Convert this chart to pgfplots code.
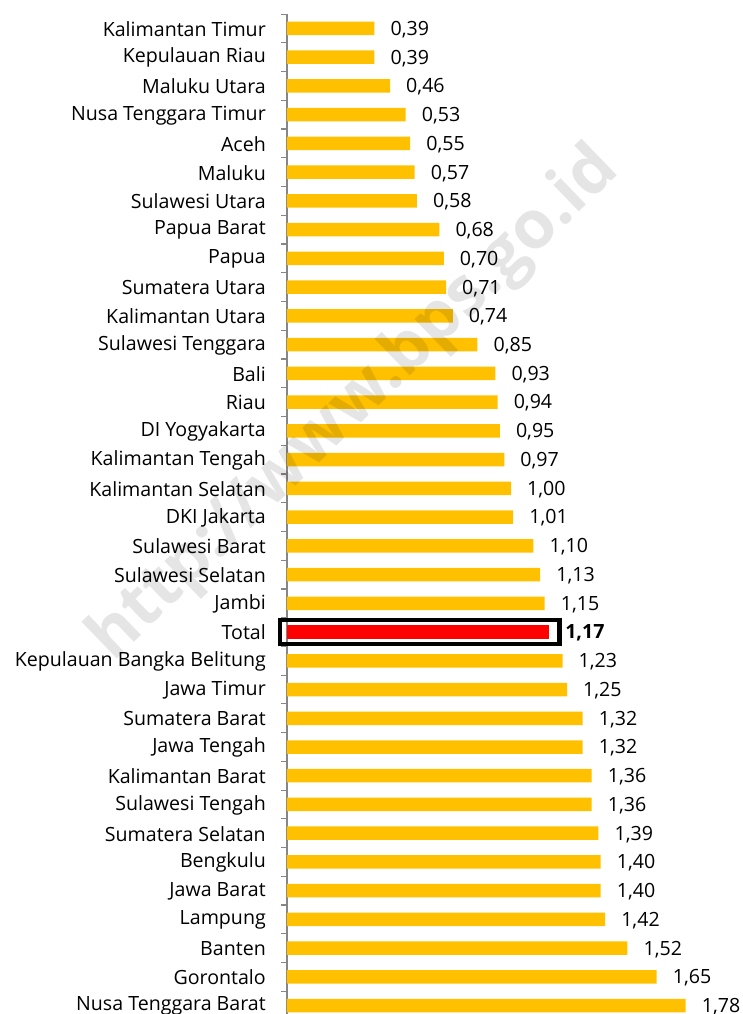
\documentclass[border=0pt]{standalone}
\usepackage{pgfplots}
\pgfplotsset{compat=1.18}
\usepackage{fontspec}
\setmainfont{Open Sans}
\definecolor{baryellow}{HTML}{FFC000}
\definecolor{axgray}{HTML}{868686}
\pgfplotstableread{
idx val
0 0.39
1 0.39
2 0.46
3 0.53
4 0.55
5 0.57
6 0.58
7 0.68
8 0.70
9 0.71
10 0.74
11 0.85
12 0.93
13 0.94
14 0.95
15 0.97
16 1.00
17 1.01
18 1.10
19 1.13
20 1.15
22 1.23
23 1.25
24 1.32
25 1.32
26 1.36
27 1.36
28 1.39
29 1.40
30 1.40
31 1.42
32 1.52
33 1.65
34 1.78
}\provdata
\pgfplotstableread{
idx val
21 1.17
}\totaldata
\begin{document}
\begin{tikzpicture}
\begin{axis}[
  x=224pt, y=28.74pt, y dir=reverse,
  xmin=0, xmax=2.03, ymin=-0.5, ymax=34.5,
  clip=false,
  axis x line=none,
  axis y line*=left,
  y axis line style={-, draw=axgray, line width=1.5pt},
  ytick={0,...,34},
  yticklabels={Kalimantan Timur,Kepulauan Riau,Maluku Utara,Nusa Tenggara Timur,Aceh,Maluku,Sulawesi Utara,Papua Barat,Papua,Sumatera Utara,Kalimantan Utara,Sulawesi Tenggara,Bali,Riau,DI Yogyakarta,Kalimantan Tengah,Kalimantan Selatan,DKI Jakarta,Sulawesi Barat,Sulawesi Selatan,Jambi,Total,Kepulauan Bangka Belitung,Jawa Timur,Sumatera Barat,Jawa Tengah,Kalimantan Barat,Sulawesi Tengah,Sumatera Selatan,Bengkulu,Jawa Barat,Lampung,Banten,Gorontalo,Nusa Tenggara Barat},
  minor ytick={-0.5,0.5,...,34.5},
  major tick length=0pt,
  minor tick length=6pt,
  tick align=outside,
  ytick pos=left,
  minor tick style={axgray, line width=1.2pt},
  yticklabel style={font=\fontsize{19.6}{21}\selectfont, anchor=east, inner sep=0pt, xshift=-21pt, yshift=-0.5pt},
  xbar, bar width=13.5pt, bar shift=0pt,
  point meta=x,
  nodes near coords={\pgfmathprintnumber[fixed,fixed zerofill,precision=2,use comma,assume math mode=true]{\pgfplotspointmeta}},
  nodes near coords style={anchor=west, inner sep=0pt, xshift=16pt, yshift=-1pt, font=\fontsize{19.6}{21}\selectfont, text=black},
]
\addplot[draw=none, fill=baryellow] table[x=val, y=idx] {\provdata};
\addplot[draw=none, fill=red, nodes near coords style={font=\fontsize{19.6}{21}\selectfont\bfseries}] table[x=val, y=idx] {\totaldata};
\draw[black, line width=4.5pt] (axis cs:-0.031,20.58) rectangle (axis cs:1.216,21.42);
\coordinate (O) at (axis cs:0,0);
\end{axis}
\node[rotate=44, font=\fontsize{67}{67}\selectfont\bfseries, text=black, text opacity=0.1] at ([shift={(68pt,-376pt)}]O) {http://www.bps.go.id};
\pgfresetboundingbox
\path[use as bounding box] (O) ++(-287pt,28.5pt) rectangle ++(742pt,-1014pt);
\end{tikzpicture}
\end{document}
